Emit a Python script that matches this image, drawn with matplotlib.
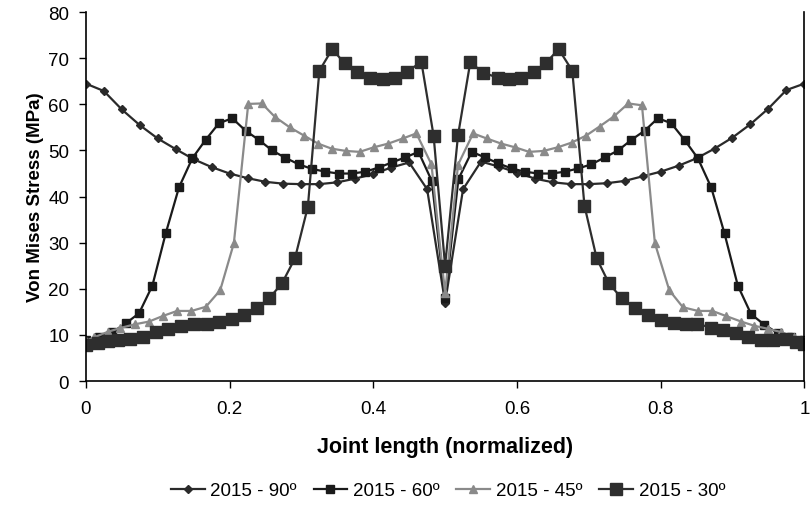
import numpy as np
import matplotlib
matplotlib.use("Agg")
import matplotlib.pyplot as plt

plt.rcParams['font.family'] = ['Liberation Sans', 'DejaVu Sans']

# 2015 - 90deg (step 0.025)
x90 = [0, 0.025, 0.05, 0.075, 0.1, 0.125, 0.15, 0.175, 0.2, 0.225, 0.25, 0.275,
       0.3, 0.325, 0.35, 0.375, 0.4, 0.425, 0.45, 0.475, 0.5,
       0.525, 0.55, 0.575, 0.6, 0.625, 0.65, 0.675, 0.7, 0.725, 0.75,
       0.775, 0.8, 0.825, 0.85, 0.875, 0.9, 0.925, 0.95, 0.975, 1.0]
y90 = [64.5, 62.9, 58.9, 55.5, 52.6, 50.3, 48.1, 46.4, 45.0, 44.0, 43.2, 42.8,
       42.7, 42.7, 43.1, 43.9, 44.9, 46.3, 47.4, 41.6, 17.0,
       41.6, 47.6, 46.5, 45.2, 43.9, 43.1, 42.7, 42.7, 42.9, 43.4,
       44.4, 45.4, 46.7, 48.3, 50.4, 52.8, 55.7, 59.1, 63.1, 64.5]

# 2015 - 60deg (step 1/54)
x60 = [i / 54 for i in range(55)]
y60 = [8.8, 9.6, 10.6, 12.5, 14.7, 20.7, 32.0, 42.0, 48.3, 52.3, 55.9, 57.0,
       54.3, 52.3, 50.0, 48.4, 47.0, 46.0, 45.4, 45.0, 45.0, 45.4, 46.3, 47.4,
       48.5, 49.7, 43.4, 18.0,
       43.8, 49.7, 48.5, 47.2, 46.1, 45.4, 45.0, 45.0, 45.4, 46.1, 47.0, 48.5,
       50.0, 52.3, 54.3, 57.0, 55.9, 52.3, 48.3, 42.0, 32.0, 20.7, 14.5, 12.2,
       10.4, 9.5, 8.8]

# 2015 - 45deg
x45 = [0, 0.012, 0.031, 0.048, 0.068, 0.088, 0.107, 0.127, 0.147, 0.167, 0.187,
       0.206, 0.226, 0.245, 0.263, 0.284, 0.304, 0.323, 0.342, 0.362, 0.381,
       0.401, 0.421, 0.441, 0.46, 0.481, 0.5,
       0.518, 0.539, 0.558, 0.578, 0.597, 0.617, 0.637, 0.657, 0.676, 0.696,
       0.715, 0.735, 0.755, 0.774, 0.792, 0.812, 0.831, 0.852, 0.872, 0.891,
       0.912, 0.93, 0.95, 0.968, 0.986, 1.0]
y45 = [8.7, 9.5, 10.7, 11.5, 12.3, 12.9, 14.1, 15.2, 15.2, 16.1, 19.7,
       29.9, 60.1, 60.2, 57.3, 55.0, 53.2, 51.5, 50.4, 49.9, 49.7,
       50.7, 51.5, 52.6, 53.7, 47.0, 19.0,
       46.9, 53.7, 52.6, 51.5, 50.7, 49.7, 49.9, 50.7, 51.7, 53.2,
       55.2, 57.4, 60.2, 59.8, 29.9, 19.7, 16.0, 15.2, 15.2, 14.1,
       12.9, 12.0, 11.3, 10.6, 9.5, 8.7]

# 2015 - 30deg
x30 = [0, 0.017, 0.031, 0.045, 0.061, 0.079, 0.097, 0.115, 0.133, 0.15, 0.168,
       0.185, 0.203, 0.22, 0.238, 0.255, 0.273, 0.291, 0.309, 0.325, 0.343,
       0.36, 0.378, 0.395, 0.413, 0.43, 0.447, 0.467, 0.484, 0.5,
       0.518, 0.535, 0.553, 0.573, 0.589, 0.606, 0.624, 0.64, 0.658, 0.677,
       0.694, 0.711, 0.728, 0.746, 0.764, 0.783, 0.8, 0.818, 0.835, 0.851,
       0.87, 0.887, 0.905, 0.922, 0.94, 0.957, 0.975, 0.988, 1.0]
y30 = [7.8, 8.2, 8.7, 9.0, 9.1, 9.6, 10.6, 11.3, 11.9, 12.4, 12.4,
       12.7, 13.4, 14.3, 15.8, 17.9, 21.2, 26.6, 37.8, 67.3, 72.0,
       68.9, 67.1, 65.8, 65.5, 65.8, 67.1, 69.2, 53.2, 25.0,
       53.3, 69.1, 66.9, 65.8, 65.5, 65.8, 67.1, 68.9, 72.0, 67.3,
       38.0, 26.6, 21.2, 17.9, 15.8, 14.3, 13.3, 12.6, 12.4, 12.4,
       11.6, 11.1, 10.4, 9.5, 9.0, 9.0, 9.1, 8.5, 8.0]

labels = ['2015 - 90º', '2015 - 60º', '2015 - 45º', '2015 - 30º']

fig = plt.figure(figsize=(8.1, 5.06), dpi=100)
ax = fig.add_axes([0.106, 0.245, 0.887, 0.729])

ax.plot(x90, y90, color='#2a2a2a', lw=1.6, marker='D', ms=4.5, label=labels[0])
ax.plot(x60, y60, color='#1a1a1a', lw=1.6, marker='s', ms=5.5, label=labels[1])
ax.plot(x45, y45, color='#8a8a8a', lw=1.6, marker='^', ms=6, label=labels[2])
ax.plot(x30, y30, color='#2e2e2e', lw=1.6, marker='s', ms=8.5, label=labels[3])

ax.set_xlim(0, 1)
ax.set_ylim(0, 80)
ax.set_xticks([0, 0.2, 0.4, 0.6, 0.8, 1.0])
ax.set_xticklabels(['0', '0.2', '0.4', '0.6', '0.8', '1'])
ax.set_yticks(range(0, 81, 10))
ax.tick_params(labelsize=13.5, direction='out', length=5, width=1, colors='black')
ax.tick_params(axis='y', pad=7)
ax.tick_params(axis='x', pad=9)
for s in ['left', 'bottom', 'right']:
    ax.spines[s].set_linewidth(1.2)
ax.spines['top'].set_visible(False)

ax.set_xlabel('Joint length (normalized)', fontsize=15.5, fontweight='bold')
ax.set_ylabel('Von Mises Stress (MPa)', fontsize=13.5, fontweight='bold')
ax.xaxis.set_label_coords(0.5, -0.148)
ax.yaxis.set_label_coords(-0.058, 0.5)

fig.legend(loc='center', bbox_to_anchor=(0.553, 0.028), ncol=4, frameon=False,
           fontsize=13.5, handlelength=1.8, handletextpad=0.3, columnspacing=0.9)

fig.savefig('out.png', dpi=100)
